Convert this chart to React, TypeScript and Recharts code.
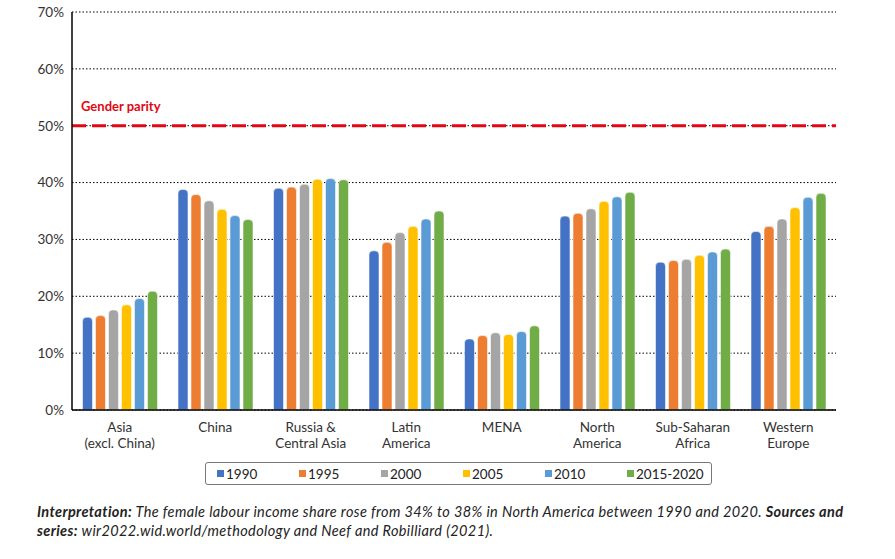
import React from "react";
import {
  BarChart,
  Bar,
  XAxis,
  YAxis,
  CartesianGrid,
  ReferenceLine,
  Legend,
} from "recharts";

const regions = [
  "Asia\n(excl. China)",
  "China",
  "Russia &\nCentral Asia",
  "Latin\nAmerica",
  "MENA",
  "North\nAmerica",
  "Sub-Saharan\nAfrica",
  "Western\nEurope",
];

const s1990 = [16.3, 38.8, 39.0, 28.0, 12.5, 34.1, 26.0, 31.4];
const s1995 = [16.6, 37.9, 39.2, 29.5, 13.1, 34.6, 26.3, 32.3];
const s2000 = [17.6, 36.8, 39.7, 31.2, 13.6, 35.4, 26.5, 33.6];
const s2005 = [18.5, 35.3, 40.6, 32.3, 13.3, 36.7, 27.2, 35.6];
const s2010 = [19.6, 34.2, 40.7, 33.6, 13.8, 37.5, 27.8, 37.4];
const s2015 = [20.9, 33.5, 40.5, 35.0, 14.8, 38.3, 28.3, 38.1];

const yTicks = [0, 10, 20, 30, 40, 50, 60, 70];

const seriesDefs = [
  { key: "y1990", name: "1990", color: "#4472C4", values: s1990 },
  { key: "y1995", name: "1995", color: "#ED7D31", values: s1995 },
  { key: "y2000", name: "2000", color: "#A5A5A5", values: s2000 },
  { key: "y2005", name: "2005", color: "#FFC000", values: s2005 },
  { key: "y2010", name: "2010", color: "#5B9BD5", values: s2010 },
  { key: "y2015", name: "2015-2020", color: "#70AD47", values: s2015 },
];

const data = regions.map((r, i) => {
  const row: Record<string, string | number> = { region: r };
  seriesDefs.forEach((s) => (row[s.key] = s.values[i]));
  return row;
});

const FONT = "Lato, 'Open Sans', sans-serif";

const RegionTick = (props: any) => {
  const { x, y, payload } = props;
  const lines = String(payload.value).split("\n");
  return (
    <text x={x} y={y} textAnchor="middle" fill="#333" fontSize={13.5} fontFamily={FONT}>
      {lines.map((l, i) => (
        <tspan key={i} x={x} dy={i === 0 ? 14 : 15.5}>
          {l}
        </tspan>
      ))}
    </text>
  );
};

const LegendBox = () => (
  <div
    style={{
      width: 507,
      height: 23,
      margin: "7px 0 0 205px",
      border: "1.5px solid #777",
      borderRadius: 3,
      display: "flex",
      alignItems: "center",
      fontFamily: FONT,
      fontSize: 13.5,
      color: "#222",
      boxSizing: "border-box",
      paddingLeft: 11,
    }}
  >
    {seriesDefs.map((s) => (
      <div key={s.key} style={{ display: "flex", alignItems: "center", width: 82 }}>
        <span style={{ width: 7, height: 7, background: s.color, display: "inline-block", marginRight: 2 }} />
        {s.name}
      </div>
    ))}
  </div>
);

export default function App() {
  return (
    <div style={{ position: "absolute", left: 0, top: 0, width: 895, height: 559, background: "#fff" }}>
      <BarChart
        width={895}
        height={490}
        data={data}
        margin={{ top: 12, right: 59, left: 0, bottom: 5 }}
        barGap={3}
        barCategoryGap="11%"
      >
        <CartesianGrid
          vertical={false}
          stroke="#000"
          strokeDasharray="1.5 2"
          strokeWidth={1}
        />
        <XAxis
          dataKey="region"
          interval={0}
          tickLine={false}
          axisLine={{ stroke: "#000", strokeWidth: 1.5 }}
          tick={<RegionTick />}
          height={45}
        />
        <YAxis
          domain={[0, 70]}
          ticks={yTicks}
          tickFormatter={(v) => `${v}%`}
          tickLine={false}
          axisLine={{ stroke: "#000", strokeWidth: 1.5 }}
          width={72}
          tick={{ fill: "#333", fontSize: 13.5, fontFamily: FONT }}
        />
        <ReferenceLine
          y={50}
          stroke="#E30613"
          strokeWidth={3}
          strokeDasharray="14 6"
          label={{
            value: "Gender parity",
            position: "insideTopLeft",
            fill: "#E30613",
            fontSize: 13,
            fontWeight: 700,
            fontFamily: FONT,
            dx: 4,
            dy: -29,
          }}
        />
        {seriesDefs.map((s) => (
          <Bar
            key={s.key}
            dataKey={s.key}
            name={s.name}
            fill={s.color}
            stroke="rgba(255,255,255,0.55)"
            strokeWidth={1}
            radius={[4, 4, 0, 0]}
            isAnimationActive={false}
          />
        ))}
        <Legend verticalAlign="bottom" content={<LegendBox />} />
      </BarChart>
      <div
        style={{
          position: "absolute",
          left: 37,
          top: 502,
          width: 830,
          fontFamily: FONT,
          fontStyle: "italic",
          fontSize: 14.5,
          letterSpacing: "0.37px",
          lineHeight: "19px",
          color: "#222",
          whiteSpace: "nowrap",
        }}
      >
        <b>Interpretation:</b> The female labour income share rose from 34% to 38% in North America between 1990 and 2020.{" "}
        <b>Sources and</b>
        <br />
        <b>series:</b> wir2022.wid.world/methodology and Neef and Robilliard (2021).
      </div>
    </div>
  );
}
